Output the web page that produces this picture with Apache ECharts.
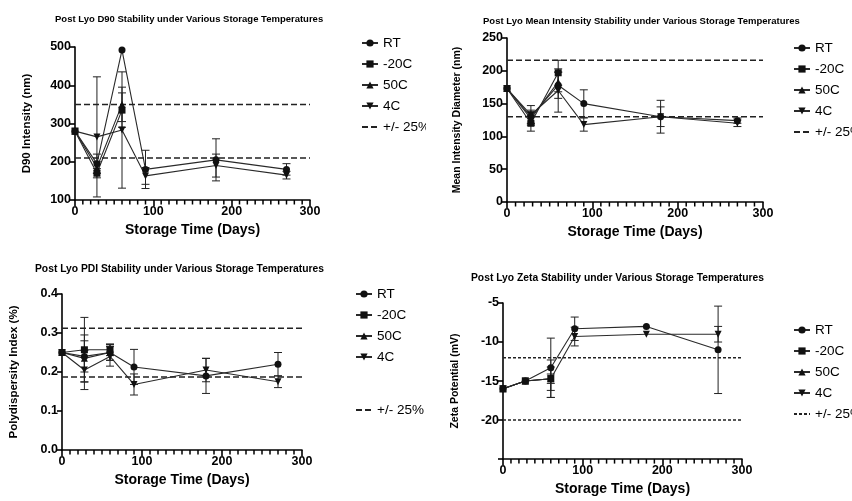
<!DOCTYPE html>
<html>
<head>
<meta charset="utf-8">
<script src="https://cdn.jsdelivr.net/npm/echarts@6/dist/echarts.min.js"></script>
<style>
  body { margin: 0; background: #fff; }
  #wrap { position: relative; width: 852px; height: 501px; }
  .panel { position: absolute; }
</style>
</head>
<body>
<div id="wrap">
  <div id="p1" class="panel" style="left:0;top:0;width:426px;height:250px;"></div>
  <div id="p2" class="panel" style="left:426px;top:0;width:426px;height:250px;"></div>
  <div id="p3" class="panel" style="left:0;top:250px;width:426px;height:251px;"></div>
  <div id="p4" class="panel" style="left:426px;top:250px;width:426px;height:251px;"></div>
</div>
<script>
const fullDays = [0, 28, 60, 90, 180, 270]
const shortDays = [0, 28, 60]
const seriesNames = ['RT', '-20C', '50C', '4C']
const limitName = '+/- 25%'

// D90
const d90RT = [280, 195, 492, 180, 205, 180]
const d90RTErr = [0, 25, 0, 50, 55, 15]
const d90Neg20 = [280, 170, 335]
const d90Neg20Err = [0, 12, 45]
const d90C50 = [280, 185, 350]
const d90C50Err = [0, 15, 45]
const d90C4 = [280, 265, 283, 163, 190, 165]
const d90C4Err = [0, 157, 152, 22, 30, 10]
const d90Limits = [350, 210]

// Mean intensity diameter
const meanRT = [173, 130, 178, 150, 130, 124]
const meanRTErr = [0, 10, 20, 21, 25, 4]
const meanNeg20 = [173, 120, 197]
const meanNeg20Err = [0, 12, 19]
const meanC50 = [173, 127, 183]
const meanC50Err = [0, 10, 15]
const meanC4 = [173, 133, 170, 118, 130, 120]
const meanC4Err = [0, 14, 33, 10, 15, 5]
const meanLimits = [216, 130]

// PDI
const pdiRT = [0.25, 0.24, 0.25, 0.213, 0.19, 0.22]
const pdiRTErr = [0, 0.04, 0.02, 0.045, 0.045, 0.03]
const pdiNeg20 = [0.25, 0.257, 0.257]
const pdiNeg20Err = [0, 0.083, 0.015]
const pdiC50 = [0.25, 0.235, 0.25]
const pdiC50Err = [0, 0.06, 0.02]
const pdiC4 = [0.25, 0.205, 0.24, 0.168, 0.205, 0.175]
const pdiC4Err = [0, 0.05, 0.025, 0.027, 0.03, 0.015]
const pdiLimits = [0.3125, 0.1875]

// Zeta
const zetaRT = [-16, -15, -13.3, -8.3, -8, -11]
const zetaRTErr = [0, 0, 3.8, 1.5, 0, 5.6]
const zetaNeg20 = [-16, -15, -14.7]
const zetaNeg20Err = [0, 0, 2.4]
const zetaC50 = [-16, -15, -14.7]
const zetaC50Err = [0, 0, 1.5]
const zetaC4 = [-16, -15, -14.7, -9.3, -9, -9]
const zetaC4Err = [0, 0, 0.6, 1.2, 0, 1]
const zetaLimits = [-12, -20]

const FONT = 'Liberation Sans'
const symbols = [
  { symbol: 'circle', size: 7, rotate: 0 },
  { symbol: 'rect', size: 7, rotate: 0 },
  { symbol: 'triangle', size: 7, rotate: 0 },
  { symbol: 'triangle', size: 7, rotate: 180 }
]

// minor tick positions on the time axis (every 10 days)
const minorDays = []
for (let d = 10; d < 300; d += 10) {
  if (d % 100) minorDays.push(d)
}

function errorBar (params, api) {
  const x = api.value(0)
  const lo = api.coord([x, api.value(1)])
  const hi = api.coord([x, api.value(2)])
  const hw = 4
  const style = { stroke: '#222', lineWidth: 1 }
  return {
    type: 'group',
    children: [
      { type: 'line', shape: { x1: lo[0], y1: lo[1], x2: hi[0], y2: hi[1] }, style: style },
      { type: 'line', shape: { x1: lo[0] - hw, y1: lo[1], x2: lo[0] + hw, y2: lo[1] }, style: style },
      { type: 'line', shape: { x1: hi[0] - hw, y1: hi[1], x2: hi[0] + hw, y2: hi[1] }, style: style }
    ]
  }
}

function minorTick (params, api) {
  const p = api.coord([api.value(0), api.value(1)])
  return {
    type: 'rect',
    shape: { x: p[0] - 0.75, y: p[1], width: 1.5, height: 4.5 },
    style: { fill: '#000' },
    z2: 10
  }
}

function makePanel (id, cfg) {
  const chart = echarts.init(document.getElementById(id))
  const series = []
  cfg.groups.forEach((g, k) => {
    const s = symbols[k]
    series.push({
      name: seriesNames[k],
      type: 'line',
      data: g.days.map((d, i) => [d, g.values[i]]),
      symbol: s.symbol,
      symbolSize: s.size,
      symbolRotate: s.rotate,
      lineStyle: { color: '#2a2a2a', width: 1.1 },
      itemStyle: { color: '#111' },
      z: 3
    })
    series.push({
      name: seriesNames[k] + ' err',
      type: 'custom',
      renderItem: errorBar,
      data: g.days.map((d, i) => [d, g.values[i] - g.err[i], g.values[i] + g.err[i]]).filter(r => r[2] > r[1]),
      encode: { x: 0, y: [1, 2] },
      silent: true,
      z: 2
    })
  })
  cfg.limits.forEach(v => {
    series.push({
      name: limitName,
      type: 'line',
      data: [[0, v], [300, v]],
      symbol: 'none',
      silent: true,
      itemStyle: { color: '#222', opacity: 0 },
      lineStyle: { color: '#222', width: 1.5, type: cfg.dash }
    })
  })
  series.push({
    name: 'minor ticks',
    type: 'custom',
    clip: false,
    silent: true,
    z: 10,
    data: minorDays.map(d => [d, cfg.yMin]),
    encode: { x: 0, y: 1 },
    renderItem: minorTick
  })

  const legendBase = {
    orient: 'vertical',
    left: cfg.legendLeft,
    itemWidth: 16,
    itemHeight: 9,
    itemGap: 7,
    textStyle: { fontFamily: FONT, fontSize: 13.5, color: '#000' },
    selectedMode: false
  }
  const limitItem = { name: limitName, itemStyle: { opacity: 0 } }
  const legends = cfg.splitLegend
    ? [
        Object.assign({}, legendBase, { top: cfg.legendTop, data: seriesNames }),
        Object.assign({}, legendBase, { top: cfg.legendTop2, data: [limitItem] })
      ]
    : [Object.assign({}, legendBase, { top: cfg.legendTop, data: seriesNames.concat([limitItem]) })]

  const axisText = { fontFamily: FONT, fontWeight: 'bold', fontSize: 12.5, color: '#000' }
  const axisLine = { show: true, onZero: false, lineStyle: { color: '#000', width: 1.6 } }

  chart.setOption({
    animation: false,
    title: {
      text: cfg.title,
      left: cfg.titleLeft,
      top: cfg.titleTop,
      textStyle: { fontFamily: FONT, fontWeight: 'bold', fontSize: cfg.titleSize, color: '#000' }
    },
    legend: legends,
    grid: cfg.grid,
    xAxis: {
      type: 'value',
      min: 0,
      max: 300,
      interval: 100,
      name: 'Storage Time (Days)',
      nameLocation: 'middle',
      nameGap: cfg.xNameGap,
      nameTextStyle: { fontFamily: FONT, fontWeight: 'bold', fontSize: 14, color: '#000' },
      axisLine: axisLine,
      axisTick: { show: true, length: 6, lineStyle: { color: '#000', width: 1.6 } },
      splitLine: { show: false },
      axisLabel: Object.assign({ margin: 5 }, axisText)
    },
    yAxis: {
      type: 'value',
      min: cfg.yMin,
      max: cfg.yMax,
      interval: cfg.yInterval,
      name: cfg.yName,
      nameLocation: 'middle',
      nameGap: cfg.yNameGap,
      nameTextStyle: { fontFamily: FONT, fontWeight: 'bold', fontSize: cfg.yNameSize, color: '#000' },
      axisLine: axisLine,
      axisTick: { show: true, length: 5, lineStyle: { color: '#000', width: 1.6 } },
      splitLine: { show: false },
      axisLabel: Object.assign({ margin: 4, formatter: cfg.yFormat }, axisText)
    },
    series: series
  })
  return chart
}

makePanel('p1', {
  title: 'Post Lyo D90 Stability under Various Storage Temperatures',
  titleLeft: 50,
  titleTop: 9,
  titleSize: 9.5,
  grid: { left: 75, right: 116, top: 47, height: 153 },
  yMin: 100, yMax: 500, yInterval: 100,
  yName: 'D90 Intensity (nm)', yNameGap: 42, yNameSize: 11.5,
  xNameGap: 22,
  dash: [6, 3],
  legendLeft: 356, legendTop: 31,
  groups: [
    { days: fullDays, values: d90RT, err: d90RTErr },
    { days: shortDays, values: d90Neg20, err: d90Neg20Err },
    { days: shortDays, values: d90C50, err: d90C50Err },
    { days: fullDays, values: d90C4, err: d90C4Err }
  ],
  limits: d90Limits
})

makePanel('p2', {
  title: 'Post Lyo Mean Intensity Stability under Various Storage Temperatures',
  titleLeft: 52,
  titleTop: 11,
  titleSize: 9.5,
  grid: { left: 81, right: 89, top: 38, height: 164 },
  yMin: 0, yMax: 250, yInterval: 50,
  yName: 'Mean Intensity Diameter (nm)', yNameGap: 44, yNameSize: 10.5,
  xNameGap: 20,
  dash: [6, 3],
  legendLeft: 362, legendTop: 36,
  groups: [
    { days: fullDays, values: meanRT, err: meanRTErr },
    { days: shortDays, values: meanNeg20, err: meanNeg20Err },
    { days: shortDays, values: meanC50, err: meanC50Err },
    { days: fullDays, values: meanC4, err: meanC4Err }
  ],
  limits: meanLimits
})

makePanel('p3', {
  title: 'Post Lyo PDI Stability under Various Storage Temperatures',
  titleLeft: 30,
  titleTop: 9,
  titleSize: 10.3,
  grid: { left: 55, right: 124, top: 44, height: 156 },
  yMin: 0, yMax: 0.4, yInterval: 0.1,
  yFormat: v => v.toFixed(1),
  yName: 'Polydispersity Index (%)', yNameGap: 42, yNameSize: 11.5,
  xNameGap: 22,
  dash: [6, 3],
  legendLeft: 350, legendTop: 32, splitLegend: true, legendTop2: 148,
  groups: [
    { days: fullDays, values: pdiRT, err: pdiRTErr },
    { days: shortDays, values: pdiNeg20, err: pdiNeg20Err },
    { days: shortDays, values: pdiC50, err: pdiC50Err },
    { days: fullDays, values: pdiC4, err: pdiC4Err }
  ],
  limits: pdiLimits
})

makePanel('p4', {
  title: 'Post Lyo Zeta Stability under Various Storage Temperatures',
  titleLeft: 40,
  titleTop: 18,
  titleSize: 10.3,
  grid: { left: 77, right: 110, top: 53, height: 157 },
  yMin: -25, yMax: -5, yInterval: 5,
  yFormat: v => (v === -25 ? '' : String(v)),
  yName: 'Zeta Potential (mV)', yNameGap: 42, yNameSize: 10.5,
  xNameGap: 20,
  dash: [3, 2],
  legendLeft: 362, legendTop: 68,
  groups: [
    { days: fullDays, values: zetaRT, err: zetaRTErr },
    { days: shortDays, values: zetaNeg20, err: zetaNeg20Err },
    { days: shortDays, values: zetaC50, err: zetaC50Err },
    { days: fullDays, values: zetaC4, err: zetaC4Err }
  ],
  limits: zetaLimits
})
</script>
</body>
</html>
